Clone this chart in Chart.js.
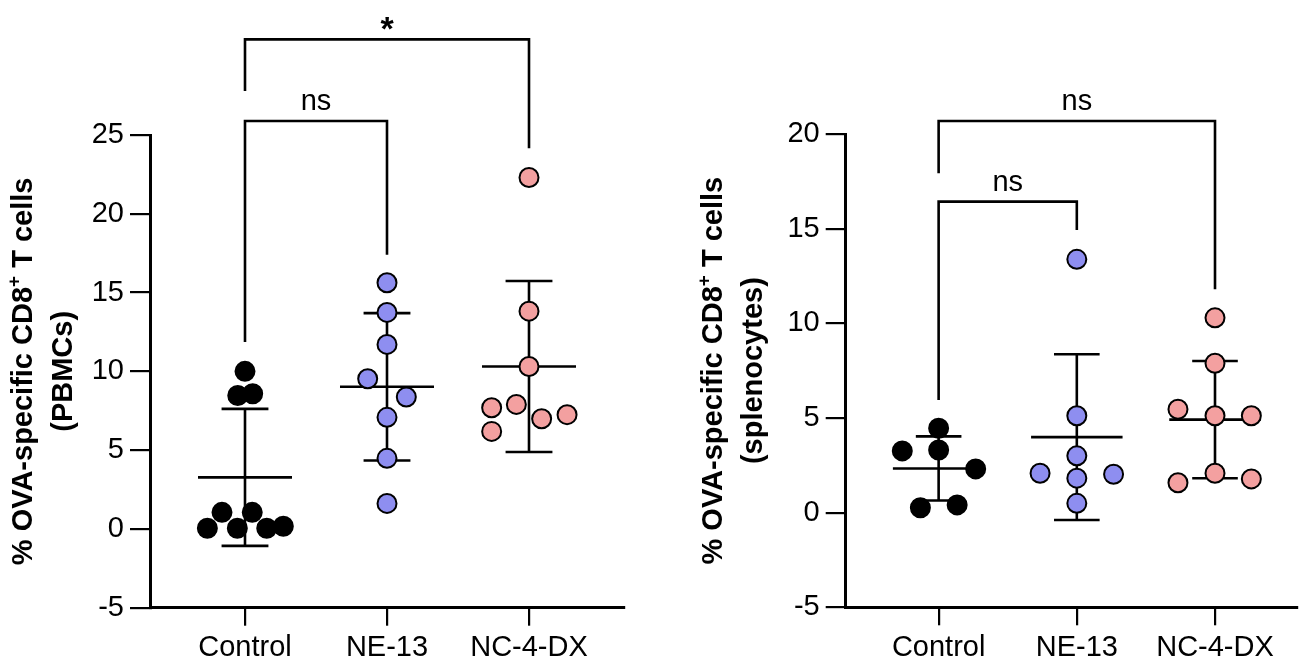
<!DOCTYPE html>
<html><head><meta charset="utf-8">
<script src="https://cdn.jsdelivr.net/npm/chart.js@4"></script>
<style>
html,body{margin:0;padding:0;background:#fff;}
#wrap{position:relative;width:1309px;height:660px;overflow:hidden;}
.c{position:absolute;top:0;height:660px;}
#left{left:0;width:654px;}
#right{left:654px;width:655px;}
</style></head><body>
<div id="wrap"><div class="c" id="left"><canvas id="cL"></canvas></div><div class="c" id="right"><canvas id="cR"></canvas></div></div>
<script>
// ---------- data ----------
const categories = ['Control', 'NE-13', 'NC-4-DX'];
const yTicksLeft = [-5, 0, 5, 10, 15, 20, 25];
const yTicksRight = [-5, 0, 5, 10, 15, 20];

// PBMCs (left panel)
const pbmcControl = [10.0, 8.47, 8.58, 1.05, 1.05, 0.04, 0.04, 0.04, 0.17];
const pbmcNE13    = [15.62, 13.74, 11.71, 9.53, 8.37, 7.08, 4.48, 1.62];
const pbmcNC4DX   = [22.3, 13.82, 10.31, 7.69, 7.9, 6.99, 7.25, 6.19];

// splenocytes (right panel)
const splControl = [4.46, 3.26, 3.31, 2.31, 0.26, 0.41];
const splNE13    = [13.38, 5.12, 3.0, 2.08, 1.82, 2.03, 0.49];
const splNC4DX   = [10.29, 7.89, 5.46, 5.12, 5.12, 2.08, 1.58, 1.78];

// horizontal scatter of the dots (category units)
const pbmcControlJitter = [0, -0.051, 0.054, -0.162, 0.051, -0.265, -0.054, 0.153, 0.27];
const pbmcNE13Jitter    = [0, 0, 0, -0.136, 0.136, 0, 0, 0];
const pbmcNC4DXJitter   = [0, 0, 0, -0.263, -0.089, 0.089, 0.268, -0.263];
const splControlJitter  = [0, -0.263, 0, 0.268, -0.132, 0.134];
const splNE13Jitter     = [0, 0, 0, -0.266, 0, 0.266, 0];
const splNC4DXJitter    = [0, 0, -0.268, 0, 0.263, 0, -0.268, 0.263];

// significance brackets (values in y units)
const pbmcBrackets = [
  {from: 0, to: 1, y: 25.89, leftEnd: 11.86, rightEnd: 17.4, label: 'ns', labelY: 26.6},
  {from: 0, to: 2, y: 31.07, leftEnd: 27.8, rightEnd: 24.16, label: '*', labelY: 31.0}
];
const splBrackets = [
  {from: 0, to: 1, y: 16.43, leftEnd: 5.95, rightEnd: 14.93, label: 'ns', labelY: 17.0},
  {from: 0, to: 2, y: 20.69, leftEnd: 17.93, rightEnd: 11.8, label: 'ns', labelY: 21.27}
];

// ---------- drawing ----------
const FONT = "'Liberation Sans', Arial, Helvetica, sans-serif";
const groupColors = ['#000000', '#8e8ef0', '#f3a0a0'];

function makeChart(canvasId, o) {
  const datasets = o.groups.map((vals, g) => ({
    data: vals.map((v, i) => ({x: g + 1 + o.jitter[g][i], y: v})),
    backgroundColor: groupColors[g],
    borderColor: '#000',
    borderWidth: 2,
    pointRadius: 9.5,
    pointHoverRadius: 9.5,
    showLine: false
  }));

  const errPlugin = {
    id: 'err',
    beforeDatasetsDraw(chart) {
      const {ctx, scales: {x, y}} = chart;
      ctx.save();
      ctx.strokeStyle = '#000';
      ctx.lineWidth = 2.6;
      ctx.lineCap = 'butt';
      o.groups.forEach((vals, g) => {
        const n = vals.length;
        const m = vals.reduce((a, b) => a + b, 0) / n;
        const sd = Math.sqrt(vals.reduce((a, b) => a + (b - m) * (b - m), 0) / (n - 1));
        const cx = x.getPixelForValue(g + 1);
        const mw = x.getPixelForValue(g + 1 + 0.331) - cx;
        const cw = x.getPixelForValue(g + 1 + 0.165) - cx;
        const yt = y.getPixelForValue(m + sd), yb = y.getPixelForValue(m - sd), ym = y.getPixelForValue(m);
        ctx.beginPath();
        ctx.moveTo(cx, yt); ctx.lineTo(cx, yb);
        ctx.moveTo(cx - cw, yt); ctx.lineTo(cx + cw, yt);
        ctx.moveTo(cx - cw, yb); ctx.lineTo(cx + cw, yb);
        ctx.moveTo(cx - mw, ym); ctx.lineTo(cx + mw, ym);
        ctx.stroke();
      });
      ctx.restore();
    }
  };

  const bracketPlugin = {
    id: 'brackets',
    afterDraw(chart) {
      const {ctx, scales: {x, y}} = chart;
      ctx.save();
      ctx.strokeStyle = '#000';
      ctx.lineWidth = 2.6;
      ctx.fillStyle = '#000';
      ctx.textAlign = 'center';
      ctx.textBaseline = 'alphabetic';
      o.brackets.forEach(b => {
        const x1 = x.getPixelForValue(b.from + 1), x2 = x.getPixelForValue(b.to + 1);
        const yy = y.getPixelForValue(b.y);
        ctx.beginPath();
        ctx.moveTo(x1, y.getPixelForValue(b.leftEnd));
        ctx.lineTo(x1, yy);
        ctx.lineTo(x2, yy);
        ctx.lineTo(x2, y.getPixelForValue(b.rightEnd));
        ctx.stroke();
        ctx.font = (b.label === '*' ? 'bold 34px ' : '29px ') + FONT;
        ctx.fillText(b.label, (x1 + x2) / 2, y.getPixelForValue(b.labelY));
      });
      ctx.restore();
    }
  };

  const titlePlugin = {
    id: 'ytitle',
    afterDraw(chart) {
      const {ctx, chartArea} = chart;
      const cy = (chartArea.top + chartArea.bottom) / 2;
      ctx.save();
      ctx.fillStyle = '#000';
      ctx.textBaseline = 'alphabetic';
      ctx.translate(o.titleX1, cy);
      ctx.rotate(-Math.PI / 2);
      const big = 'bold 29px ' + FONT, small = 'bold 19px ' + FONT;
      const p1 = '% OVA-specific CD8', sup = '+', p2 = ' T cells';
      ctx.font = big; const w1 = ctx.measureText(p1).width, w2 = ctx.measureText(p2).width;
      ctx.font = small; const ws = ctx.measureText(sup).width;
      let sx = -(w1 + ws + w2) / 2;
      ctx.textAlign = 'left';
      ctx.font = big; ctx.fillText(p1, sx, 0); sx += w1;
      ctx.font = small; ctx.fillText(sup, sx, -12); sx += ws;
      ctx.font = big; ctx.fillText(p2, sx, 0);
      ctx.restore();
      ctx.save();
      ctx.fillStyle = '#000';
      ctx.translate(o.titleX2, cy);
      ctx.rotate(-Math.PI / 2);
      ctx.font = big;
      ctx.textAlign = 'center';
      ctx.textBaseline = 'alphabetic';
      ctx.fillText(o.title2, 0, 0);
      ctx.restore();
    }
  };

  return new Chart(document.getElementById(canvasId), {
    type: 'scatter',
    data: {datasets},
    plugins: [errPlugin, bracketPlugin, titlePlugin],
    options: {
      responsive: true,
      maintainAspectRatio: false,
      animation: false,
      events: [],
      layout: {padding: {top: o.padTop, left: 0, right: o.padRight, bottom: 0}},
      plugins: {legend: {display: false}, tooltip: {enabled: false}},
      scales: {
        x: {
          type: 'linear',
          min: o.xMin, max: o.xMax,
          afterBuildTicks: s => { s.ticks = categories.map((c, i) => ({value: i + 1})); },
          afterFit: s => { s.height = o.xHeight; },
          ticks: {
            callback: v => categories[Math.round(v) - 1] || '',
            color: '#000', font: {family: FONT, size: 29}, padding: 5,
            maxRotation: 0, autoSkip: false
          },
          grid: {drawOnChartArea: false, drawTicks: true, tickLength: 18, lineWidth: 2.2, color: '#000'},
          border: {display: true, color: '#000', width: 3}
        },
        y: {
          min: o.yTicks[0], max: o.yTicks[o.yTicks.length - 1],
          afterBuildTicks: s => { s.ticks = o.yTicks.map(v => ({value: v})); },
          afterFit: s => { s.width = o.yWidth; },
          ticks: {color: '#000', font: {family: FONT, size: 29}, padding: 6},
          grid: {drawOnChartArea: false, drawTicks: true, tickLength: 20, lineWidth: 2.2, color: '#000'},
          border: {display: true, color: '#000', width: 3}
        }
      }
    }
  });
}

makeChart('cL', {
  groups: [pbmcControl, pbmcNE13, pbmcNC4DX],
  jitter: [pbmcControlJitter, pbmcNE13Jitter, pbmcNC4DXJitter],
  brackets: pbmcBrackets,
  yTicks: yTicksLeft,
  xMin: 0.331, xMax: 3.669,
  yWidth: 150, xHeight: 52.3, padTop: 135, padRight: 30,
  titleX1: 32, titleX2: 72, title2: '(PBMCs)'
});
makeChart('cR', {
  groups: [splControl, splNE13, splNC4DX],
  jitter: [splControlJitter, splNE13Jitter, splNC4DXJitter],
  brackets: splBrackets,
  yTicks: yTicksRight,
  xMin: 0.3275, xMax: 3.597,
  yWidth: 191.7, xHeight: 52.7, padTop: 134, padRight: 0,
  titleX1: 68, titleX2: 108, title2: '(splenocytes)'
});
</script>
</body></html>
